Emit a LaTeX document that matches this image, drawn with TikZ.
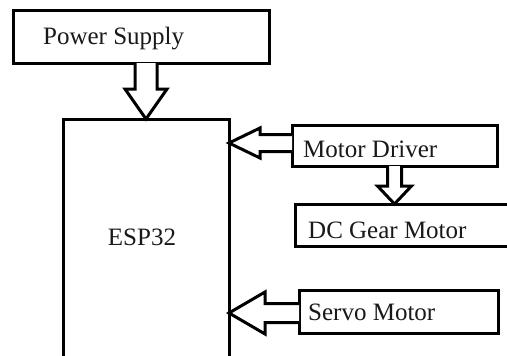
\documentclass[tikz,border=0pt]{standalone}
\usepackage{fontspec}
\setmainfont{Liberation Serif}
\usetikzlibrary{calc}
\begin{document}
\begin{tikzpicture}[x=1pt,y=-1pt,
  box/.style={draw=black, line width=3pt, fill=white, inner sep=0pt, outer sep=0pt},
  lbl/.style={inner sep=0pt, anchor=base west, text=black!90, font=\fontsize{25}{30}\selectfont},
  blk/.style={draw=black, line width=3pt, fill=white, line join=miter}]
\useasboundingbox (0,0) rectangle (507,356);
\fill[white] (0,0) rectangle (507,356);
\clip (0,0) rectangle (507,356);
% boxes
\node[box, minimum width=256pt, minimum height=53pt] (power) at (141,36.5) {};
\node[box, minimum width=166pt, minimum height=300pt, anchor=north west] (esp) at (63,119) {};
\node[box, minimum width=205pt, minimum height=41pt] (md) at (394.5,145.5) {};
\node[box, minimum width=220pt, minimum height=42pt] (dc) at (405,225) {};
\node[box, minimum width=199pt, minimum height=43pt] (servo) at (398.5,311.5) {};
% labels
\node[lbl] (powerlbl) at (43,45) {Power Supply};
\node[lbl, anchor=base] (esplbl) at (142,245) {ESP32};
\node[lbl] (mdlbl) at (303,157) {Motor Driver};
\node[lbl] (dclbl) at (308,238) {DC Gear Motor};
\node[lbl] (servolbl) at (308,320) {Servo Motor};
% block arrows
% power -> esp (down)
\draw[blk] let \p1=(esp.north), \p2=(power.south) in
  (\x1-11pt,\y2) -- (\x1-11pt,\y1+30pt) -- (\x1-21pt,\y1+30pt) -- (\p1)
  -- (\x1+21pt,\y1+30pt) -- (\x1+11pt,\y1+30pt) -- (\x1+11pt,\y2);
% motor driver -> esp (left)
\draw[blk] let \p1=([yshift=2.5pt]esp.east |- md.west), \p2=(md.west) in
  (\x2,\y1+8.5pt) -- (\x1+31pt,\y1+8.5pt) -- (\x1+31pt,\y1+15pt) -- (\p1)
  -- (\x1+31pt,\y1-15pt) -- (\x1+31pt,\y1-8.5pt) -- (\x2,\y1-8.5pt);
% motor driver -> dc (down)
\draw[blk] let \p1=(dc.north -| md.south), \p2=(md.south) in
  (\x1-7pt,\y2) -- (\x1-7pt,\y1+18pt) -- (\x1-17pt,\y1+18pt) -- (\p1)
  -- (\x1+17pt,\y1+18pt) -- (\x1+7pt,\y1+18pt) -- (\x1+7pt,\y2);
% servo -> esp (left)
\draw[blk] let \p1=([yshift=-1.5pt]esp.east |- servo.west), \p2=(servo.west) in
  (\x2,\y1+9.5pt) -- (\x1+36pt,\y1+9.5pt) -- (\x1+36pt,\y1+21pt) -- (\p1)
  -- (\x1+36pt,\y1-21pt) -- (\x1+36pt,\y1-9.5pt) -- (\x2,\y1-9.5pt);
\end{tikzpicture}
\end{document}
